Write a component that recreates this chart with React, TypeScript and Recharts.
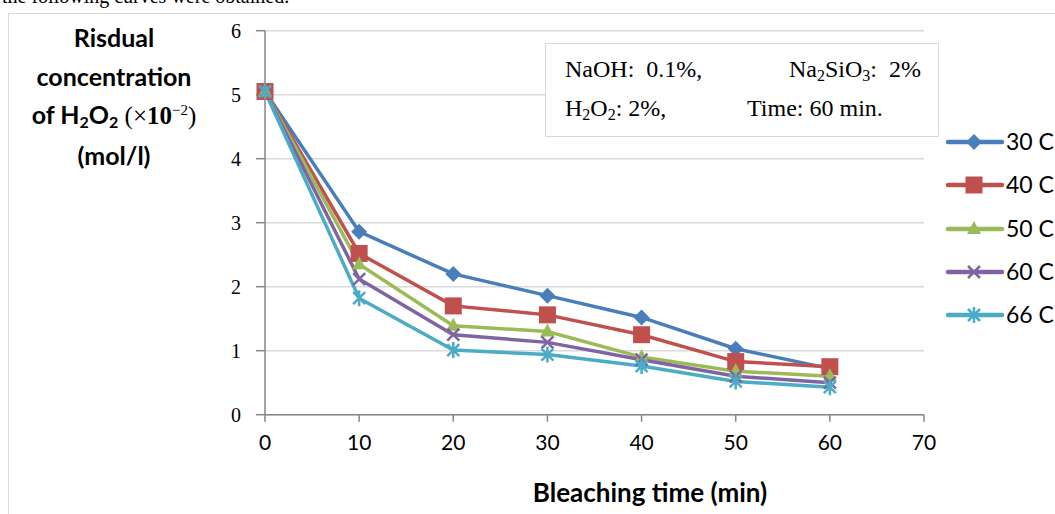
import { CartesianGrid, Line, LineChart, XAxis, YAxis } from "recharts";

// Bleaching time (min) and residual H2O2 (x10^-2 mol/l) per temperature.
const times = [0, 10, 20, 30, 40, 50, 60];
const c30 = [5.05, 2.86, 2.2, 1.86, 1.52, 1.03, 0.72];
const c40 = [5.05, 2.52, 1.7, 1.56, 1.25, 0.83, 0.75];
const c50 = [5.05, 2.35, 1.39, 1.3, 0.9, 0.68, 0.6];
const c60 = [5.05, 2.12, 1.25, 1.13, 0.86, 0.6, 0.5];
const c66 = [5.05, 1.82, 1.01, 0.94, 0.76, 0.52, 0.43];

const xTicks = [0, 10, 20, 30, 40, 50, 60, 70];
const yTicks = [0, 1, 2, 3, 4, 5, 6];

const SERIES = [
  { key: "c30", name: "30 C", color: "#4A7EBB", marker: "diamond", values: c30 },
  { key: "c40", name: "40 C", color: "#C0504D", marker: "square", values: c40 },
  { key: "c50", name: "50 C", color: "#9BBB59", marker: "triangle", values: c50 },
  { key: "c60", name: "60 C", color: "#8064A2", marker: "x", values: c60 },
  { key: "c66", name: "66 C", color: "#4BACC6", marker: "star", values: c66 },
];

const rows = times.map((t, i) => {
  const row: Record<string, number> = { t };
  for (const s of SERIES) row[s.key] = s.values[i];
  return row;
});

function Marker({ kind, cx, cy, color }: { kind: string; cx: number; cy: number; color: string }) {
  if (kind === "diamond") {
    const r = 8;
    return <path d={`M${cx},${cy - r}L${cx + r},${cy}L${cx},${cy + r}L${cx - r},${cy}Z`} fill={color} />;
  }
  if (kind === "square") {
    const r = 8.5;
    return <rect x={cx - r} y={cy - r} width={2 * r} height={2 * r} fill={color} />;
  }
  if (kind === "triangle") {
    return <path d={`M${cx},${cy - 8}L${cx + 7},${cy + 5}L${cx - 7},${cy + 5}Z`} fill={color} />;
  }
  if (kind === "x") {
    const r = 6;
    return (
      <path
        d={`M${cx - r},${cy - r}L${cx + r},${cy + r}M${cx - r},${cy + r}L${cx + r},${cy - r}`}
        stroke={color}
        strokeWidth={2.5}
      />
    );
  }
  const r = 6;
  return (
    <path
      d={`M${cx - r},${cy - r}L${cx + r},${cy + r}M${cx - r},${cy + r}L${cx + r},${cy - r}M${cx},${cy - 8}L${cx},${cy + 8}`}
      stroke={color}
      strokeWidth={2.5}
    />
  );
}

const serif = "'Liberation Serif', 'Times New Roman', serif";
const sans = "Lato, 'Open Sans', sans-serif";
const sub = { fontSize: 16, lineHeight: 0, verticalAlign: "-4px" };

export default function App() {
  return (
    <div
      style={{
        position: "absolute",
        left: 0,
        top: 0,
        width: 1055,
        height: 514,
        background: "#fff",
        overflow: "hidden",
      }}
    >
      {/* tail of the surrounding paragraph, clipped at the top */}
      <div
        style={{
          position: "absolute",
          left: 2,
          top: -15,
          fontFamily: serif,
          fontSize: 20,
          color: "#000",
          whiteSpace: "nowrap",
        }}
      >
        the following curves were obtained.
      </div>
      <div
        style={{
          position: "absolute",
          left: 8,
          top: 13,
          width: 1100,
          height: 600,
          border: "1.5px solid #d9d9d9",
        }}
      />

      <div style={{ position: "absolute", left: 0, top: 0 }}>
        <LineChart
          width={1055}
          height={514}
          data={rows}
          margin={{ top: 30.7, right: 131, bottom: 59.3, left: 225 }}
        >
          <CartesianGrid vertical={false} stroke="#d9d9d9" strokeWidth={1.5} />
          <XAxis
            dataKey="t"
            type="number"
            domain={[0, 70]}
            ticks={xTicks}
            height={40}
            stroke="#868686"
            strokeWidth={1.5}
            tickSize={7}
            tickMargin={13}
            tick={{ fontSize: 21, fill: "#000", fontFamily: sans }}
          />
          <YAxis
            type="number"
            domain={[0, 6]}
            ticks={yTicks}
            width={40}
            stroke="#868686"
            strokeWidth={1.5}
            tickSize={9}
            tickMargin={15}
            tick={{ fontSize: 20, fill: "#000", fontFamily: serif }}
          />
          {SERIES.map((s) => (
            <Line
              key={s.key}
              dataKey={s.key}
              type="linear"
              stroke={s.color}
              strokeWidth={3.5}
              isAnimationActive={false}
              dot={(p: any) => (
                <Marker key={`${s.key}-${p.index}`} kind={s.marker} cx={p.cx} cy={p.cy} color={s.color} />
              )}
            />
          ))}
        </LineChart>
      </div>

      {/* y axis title */}
      <div
        style={{
          position: "absolute",
          left: 8,
          top: 18,
          width: 212,
          textAlign: "center",
          fontFamily: sans,
          fontWeight: 700,
          fontSize: 25,
          lineHeight: "38.5px",
          color: "#000",
        }}
      >
        <div>Risdual</div>
        <div>concentration</div>
        <div style={{ whiteSpace: "nowrap" }}>
          of H<sub style={sub}>2</sub>O<sub style={sub}>2</sub>
          <span style={{ fontFamily: serif, fontWeight: 400, fontSize: 25 }}>
            {" "}(×<b>10</b>
            <sup style={{ fontSize: 15, lineHeight: 0 }}>−2</sup>)
          </span>
        </div>
        <div>(mol/l)</div>
      </div>

      {/* conditions box */}
      <div
        style={{
          position: "absolute",
          left: 545,
          top: 43,
          width: 392,
          height: 92,
          border: "1.5px solid #d9d9d9",
          background: "#fff",
          fontFamily: serif,
          fontSize: 24,
          color: "#000",
          whiteSpace: "nowrap",
        }}
      >
        <div style={{ position: "absolute", left: 19, top: 12 }}>NaOH:&nbsp; 0.1%,</div>
        <div style={{ position: "absolute", right: 17, top: 12 }}>
          Na<sub style={sub}>2</sub>SiO<sub style={sub}>3</sub>:&nbsp; 2%
        </div>
        <div style={{ position: "absolute", left: 19, top: 51 }}>
          H<sub style={sub}>2</sub>O<sub style={sub}>2</sub>: 2%,
        </div>
        <div style={{ position: "absolute", left: 201, top: 51 }}>Time: 60 min.</div>
      </div>

      {/* legend */}
      {SERIES.map((s, i) => {
        const y = 142 + i * 43.3;
        return (
          <div key={s.key} style={{ position: "absolute", left: 945, top: y - 15, height: 30 }}>
            <svg width={60} height={30} style={{ position: "absolute", left: 0, top: 0 }}>
              <line x1={3} y1={15} x2={57} y2={15} stroke={s.color} strokeWidth={4.5} strokeLinecap="round" />
              <Marker kind={s.marker} cx={29} cy={15} color={s.color} />
            </svg>
            <div
              style={{
                position: "absolute",
                left: 61,
                top: 0,
                fontFamily: sans,
                fontSize: 23,
                whiteSpace: "nowrap",
                color: "#000",
              }}
            >
              {s.name}
            </div>
          </div>
        );
      })}

      {/* x axis title */}
      <div
        style={{
          position: "absolute",
          left: 400,
          width: 500,
          top: 476,
          textAlign: "center",
          fontFamily: sans,
          fontWeight: 700,
          fontSize: 26,
          color: "#000",
        }}
      >
        Bleaching time (min)
      </div>
    </div>
  );
}
